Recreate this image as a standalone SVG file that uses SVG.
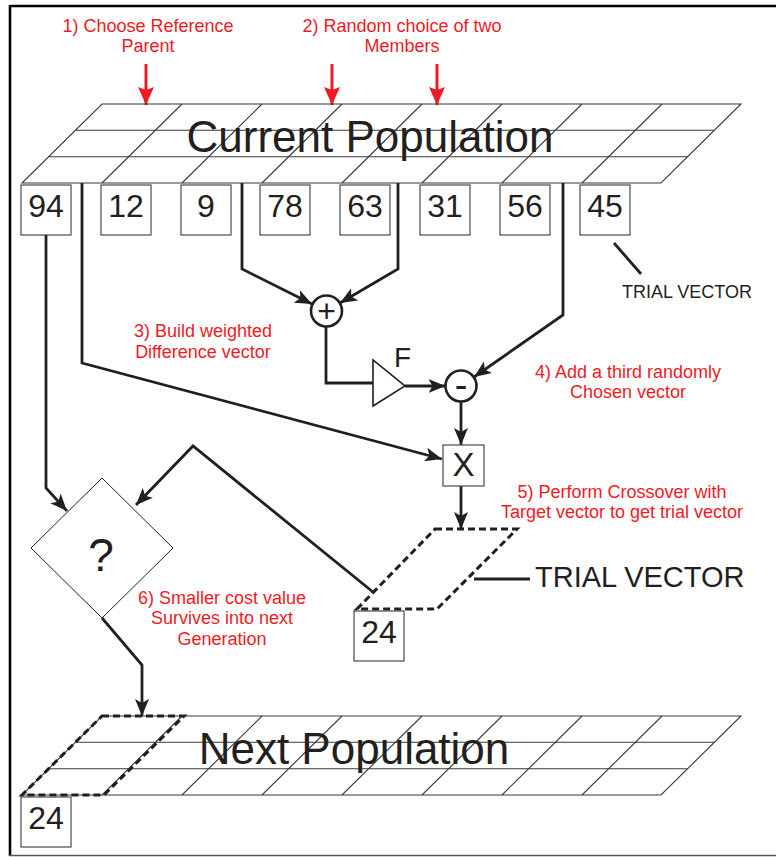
<svg xmlns="http://www.w3.org/2000/svg" xmlns:xlink="http://www.w3.org/1999/xlink" width="776" height="857" viewBox="0 0 776 857">
<style>
  text { font-family: "Liberation Sans", Arial, sans-serif; }
  .red { fill: #ed1c24; font-size: 18px; text-anchor: middle; }
  .dark { fill: #231f20; }
  .num { fill: #231f20; font-size: 32px; text-anchor: middle; }
  .big { fill: #231f20; font-size: 44px; text-anchor: middle; }
  .grid { fill: none; stroke: #3a3a3a; stroke-width: 1.1; }
  .box { fill: #ffffff; stroke: #4a4a4a; stroke-width: 1.2; }
  .conn { fill: none; stroke: #231f20; stroke-width: 2.8; stroke-linejoin: miter; }
  .arr { marker-end: url(#ah); }
  .dash { fill: none; stroke: #231f20; stroke-width: 3; stroke-dasharray: 7 4; }
  .redarrow { fill: none; stroke: #ed1c24; stroke-width: 3; marker-end: url(#ahr); }
  .op { fill: #ffffff; stroke: #231f20; stroke-width: 2.6; }
</style>
<defs>
  <marker id="ah" markerUnits="userSpaceOnUse" markerWidth="18" markerHeight="16" refX="17" refY="7" orient="auto" viewBox="0 0 18 14">
    <path d="M0,0 L17,7 L0,14 L4,7 z" fill="#231f20"/>
  </marker>
  <marker id="ahr" markerUnits="userSpaceOnUse" markerWidth="18" markerHeight="18" refX="18" refY="8" orient="auto" viewBox="0 0 18 16">
    <path d="M0,0 L18,8 L0,16 L3,8 z" fill="#ed1c24"/>
  </marker>
  <g id="gridshape">
    <path class="grid" d="M102,104 H741 L661,183 H22 Z"/>
    <path class="grid" d="M75.3,130.3 H714.3 M48.6,156.7 H687.6"/>
    <path class="grid" d="M182,104 L102,183 M262,104 L182,183 M342,104 L262,183 M422,104 L342,183 M502,104 L422,183 M582,104 L502,183 M662,104 L582,183"/>
  </g>
</defs>

<g id="frame">
  <line x1="10" y1="6" x2="776" y2="6" stroke="#000" stroke-width="2.6"/>
  <line x1="10" y1="5" x2="10" y2="856" stroke="#000" stroke-width="2.6"/>
  <line x1="9" y1="855.5" x2="776" y2="855.5" stroke="#555" stroke-width="1.5"/>
</g>

<g id="labels">
  <text class="red" x="148" y="32">1) Choose Reference</text>
  <text class="red" x="148" y="52">Parent</text>
  <text class="red" x="402" y="32">2) Random choice of two</text>
  <text class="red" x="402" y="52">Members</text>
  <text class="red" x="203" y="337">3) Build weighted</text>
  <text class="red" x="203" y="358">Difference vector</text>
  <text class="red" x="628" y="378">4) Add a third randomly</text>
  <text class="red" x="628" y="398">Chosen vector</text>
  <text class="red" x="622" y="498">5) Perform Crossover with</text>
  <text class="red" x="622" y="518">Target vector to get trial vector</text>
  <text class="red" x="222" y="604">6) Smaller cost value</text>
  <text class="red" x="222" y="624">Survives into next</text>
  <text class="red" x="222" y="645">Generation</text>
</g>

<g id="red-arrows">
  <line class="redarrow" x1="146" y1="64" x2="146" y2="105"/>
  <line class="redarrow" x1="332" y1="64" x2="332" y2="105"/>
  <line class="redarrow" x1="437" y1="64" x2="437" y2="105"/>
</g>

<g id="current-population">
  <use xlink:href="#gridshape"/>
  <text class="big" x="370" y="152">Current Population</text>
</g>

<g id="member-94"><rect class="box" x="21" y="185" width="50" height="50"/><text class="num" x="46" y="217">94</text></g>
<g id="member-12"><rect class="box" x="101" y="185" width="50" height="50"/><text class="num" x="126" y="217">12</text></g>
<g id="member-9"><rect class="box" x="181" y="185" width="50" height="50"/><text class="num" x="206" y="217">9</text></g>
<g id="member-78"><rect class="box" x="260" y="185" width="50" height="50"/><text class="num" x="285" y="217">78</text></g>
<g id="member-63"><rect class="box" x="340" y="185" width="50" height="50"/><text class="num" x="365" y="217">63</text></g>
<g id="member-31"><rect class="box" x="420" y="185" width="50" height="50"/><text class="num" x="445" y="217">31</text></g>
<g id="member-56"><rect class="box" x="500" y="185" width="50" height="50"/><text class="num" x="525" y="217">56</text></g>
<g id="member-45"><rect class="box" x="580" y="185" width="50" height="50"/><text class="num" x="605" y="217">45</text></g>

<g id="connectors">
  <path class="conn arr" d="M46,235 V488 L67,511"/>
  <path class="conn arr" d="M82,183 V363 L442,459"/>
  <path class="conn arr" d="M242,183 V269 L312,304"/>
  <path class="conn arr" d="M398,183 V269 L340,303"/>
  <path class="conn" d="M326,326.5 V383 H373"/>
  <path class="conn arr" d="M405,386 H445.5"/>
  <path class="conn arr" d="M563,183 V315 L474,377"/>
  <path class="conn arr" d="M461,401.5 V445"/>
  <path class="conn arr" d="M461,486 V529"/>
  <path class="conn arr" d="M373,592 L193,446 L136,505"/>
  <path class="conn arr" d="M102,618 L142,665 V716"/>
  <path class="conn" d="M474,579 H530"/>
  <path class="conn" d="M614,243 L641,274"/>
</g>

<g id="trial-vector-label">
  <text class="dark" x="622" y="298" font-size="18">TRIAL VECTOR</text>
</g>

<g id="plus">
  <circle class="op" cx="326.5" cy="311" r="15.5"/>
  <text class="dark" x="326.5" y="322" font-size="32" text-anchor="middle">+</text>
</g>

<g id="scale-F">
  <path d="M373,360 L373,406 L405,386 Z" fill="#fff" stroke="#231f20" stroke-width="1.6"/>
  <text class="dark" x="394" y="367" font-size="28">F</text>
</g>

<g id="minus">
  <circle class="op" cx="461" cy="386" r="15.5"/>
  <text class="dark" x="461" y="398" font-size="38" text-anchor="middle">-</text>
</g>

<g id="crossover">
  <rect class="box" x="443" y="445" width="41" height="41"/>
  <text class="dark" x="463.5" y="476" font-size="33" text-anchor="middle">X</text>
</g>

<g id="trial-vector">
  <path class="dash" d="M435,529 H517 L437,609 H357 Z"/>
  <rect class="box" x="354" y="611" width="50" height="50"/>
  <text class="num" x="379" y="643">24</text>
  <text class="dark" x="535" y="587" font-size="29">TRIAL VECTOR</text>
</g>

<g id="selection">
  <path d="M102,478 L173,548 L102,618 L31,548 Z" fill="#fff" stroke="#231f20" stroke-width="1"/>
  <text class="dark" x="101" y="571" font-size="46" text-anchor="middle">?</text>
</g>

<g id="next-population">
  <use xlink:href="#gridshape" transform="translate(0,612)"/>
  <text class="big" x="354" y="764">Next Population</text>
  <path class="dash" d="M102,716 H184 L104,795 H22 Z"/>
  <rect class="box" x="21" y="797" width="50" height="50"/>
  <text class="num" x="46" y="829">24</text>
</g>
</svg>
